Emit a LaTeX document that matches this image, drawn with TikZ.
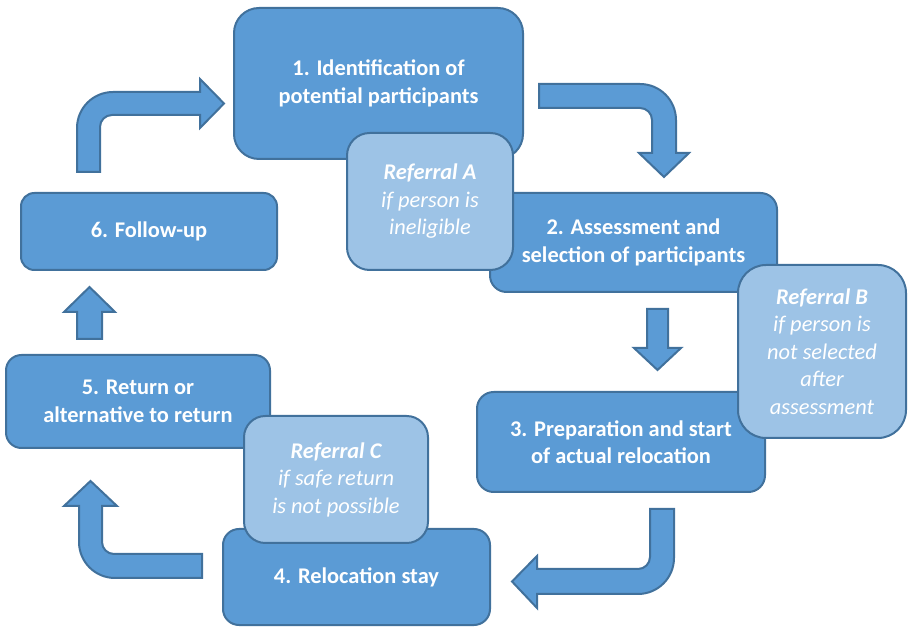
\documentclass[tikz,border=0pt]{standalone}
\usepackage{fontspec}
\setmainfont{Carlito}
\definecolor{boxfill}{HTML}{5B9BD5}
\definecolor{boxline}{HTML}{41719C}
\definecolor{reffill}{HTML}{9DC3E6}
\tikzset{
  mainbox/.style={draw=boxline, fill=boxfill, line width=1.5pt, text=white,
    align=center, inner sep=0pt, font=\fontsize{16.8}{20.6}\selectfont\bfseries},
  refbox/.style={draw=boxline, fill=reffill, line width=1.5pt, text=white,
    align=center, inner sep=0pt, font=\fontsize{16.8}{20.6}\selectfont\itshape},
  blockarrow/.style={draw=boxline, fill=boxfill, line width=1.5pt, line join=miter}
}
\begin{document}
\begin{tikzpicture}[x=0.75pt,y=-0.75pt]
\useasboundingbox (0,0) rectangle (908,627);

% block arrows
\path[blockarrow] (77,172) -- (77,128) .. controls (77,108.1) and (93.1,92) .. (113,92)
  -- (200,92) -- (200,79) -- (224,103.5) -- (200,128) -- (200,115) -- (112,115)
  .. controls (105.4,115) and (100,120.4) .. (100,127) -- (100,172) -- cycle;
\path[blockarrow] (539,84) -- (640,84) .. controls (659.9,84) and (676,100.1) .. (676,120)
  -- (676,153) -- (689,153) -- (664,177) -- (639,153) -- (652,153) -- (652,120)
  .. controls (652,113.4) and (646.6,108) .. (640,108) -- (539,108) -- cycle;
\path[blockarrow] (647,309) -- (668,309) -- (668,348) -- (681,348) -- (657.5,370)
  -- (634,348) -- (647,348) -- cycle;
\path[blockarrow] (650,509) -- (674,509) -- (674,558) .. controls (674,577.9) and (657.9,594) .. (638,594)
  -- (537,594) -- (537,608) -- (512,581.5) -- (537,556) -- (537,569) -- (638,569)
  .. controls (644.6,569) and (650,563.6) .. (650,557) -- cycle;
\path[blockarrow] (202,554) -- (202,578) -- (115,578) .. controls (95.1,578) and (79,561.9) .. (79,542)
  -- (79,506) -- (64,506) -- (90.5,481) -- (117,506) -- (102,506) -- (102,542)
  .. controls (102,548.6) and (107.4,554) .. (114,554) -- cycle;
\path[blockarrow] (77,339) -- (77,312) -- (64,312) -- (89.5,287) -- (115,312) -- (102,312)
  -- (102,339) -- cycle;

% main boxes
\node[mainbox, minimum width=216.75pt, minimum height=113.25pt, rounded corners=18.75pt] (b1) at (378.5,83.5) {1. Identification of\\potential participants};
\node[mainbox, minimum width=215.25pt, minimum height=74.25pt, rounded corners=12.4pt] (b2) at (633.5,242.5) {2. Assessment and\\selection of participants};
\node[mainbox, minimum width=216pt, minimum height=75pt, rounded corners=12.5pt] (b3) at (621,442) {3. Preparation and start\\of actual relocation};
\node[mainbox, minimum width=200.25pt, minimum height=72pt, rounded corners=12pt] (b4) at (356.5,577) {4. Relocation stay};
\node[mainbox, minimum width=198pt, minimum height=69.75pt, rounded corners=11.6pt] (b5) at (138,401.5) {5. Return or\\alternative to return};
\node[mainbox, minimum width=192pt, minimum height=57.75pt, rounded corners=10pt] (b6) at (149,231.5) {6. Follow-up};

% referral boxes
\node[refbox, minimum width=124.5pt, minimum height=102.75pt, rounded corners=17pt] (ra) at (430,201.5) {\textbf{Referral A}\\if person is\\ineligible};
\node[refbox, minimum width=126pt, minimum height=129.75pt, rounded corners=21pt] (rb) at (822,351.5) {\textbf{Referral B}\\if person is\\not selected\\after\\assessment};
\node[refbox, minimum width=138pt, minimum height=95.25pt, rounded corners=16pt] (rc) at (336,479.5) {\textbf{Referral C}\\if safe return\\is not possible};
\end{tikzpicture}
\end{document}
